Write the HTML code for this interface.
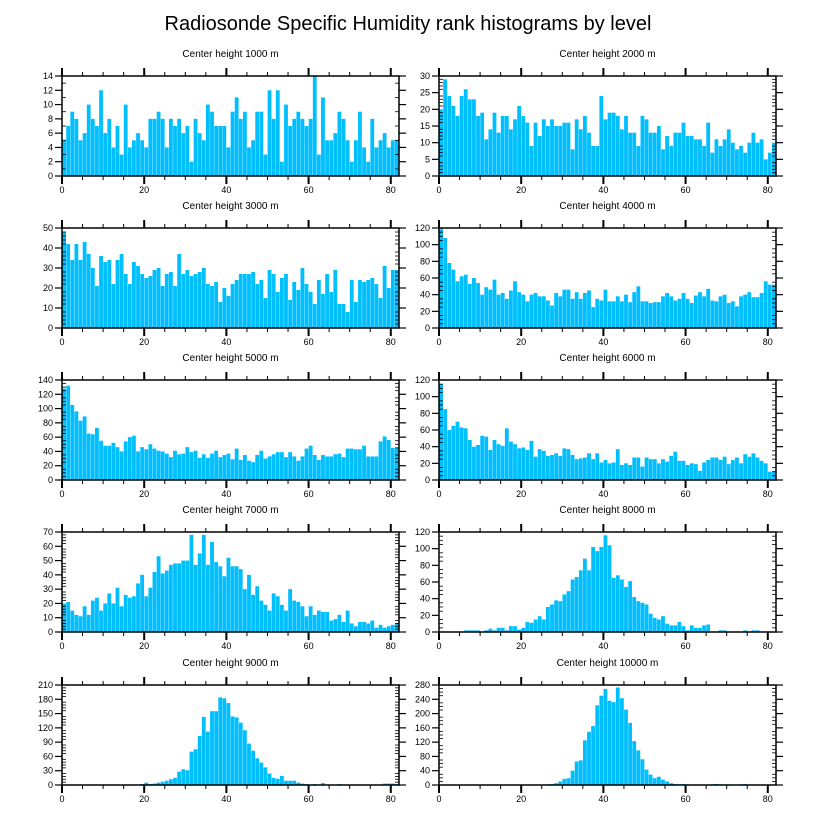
<!DOCTYPE html>
<html><head><meta charset="utf-8"><style>
body{margin:0;background:#fff;}
svg text{font-family:"Liberation Sans",sans-serif;fill:#000;}
</style></head><body>
<svg id="chart" width="816" height="824" viewBox="0 0 816 824" xmlns="http://www.w3.org/2000/svg">
<text x="408" y="30" font-size="20" text-anchor="middle">Radiosonde Specific Humidity rank histograms by level</text>
</svg>
<script>
const panelTitles = ["Center height 1000 m","Center height 2000 m","Center height 3000 m","Center height 4000 m","Center height 5000 m","Center height 6000 m","Center height 7000 m","Center height 8000 m","Center height 9000 m","Center height 10000 m"];
const yMax = [14,30,50,120,140,120,70,120,210,280];
const yStep = [2,5,10,20,20,20,10,20,30,40];
const xTicks = [0,20,40,60,80];
const h1000 = [5,7,9,8,5,6,10,8,7,12,6,8,4,7,3,10,4,5,6,5,4,8,8,9,8,4,8,7,8,6,7,2,8,6,5,10,9,7,7,7,4,9,11,8,9,4,5,9,9,3,12,8,12,2,10,7,8,9,8,7,8,14,3,11,5,5,6,9,8,5,2,5,9,4,2,8,4,5,6,4,5,5];
const h2000 = [20,29,24,21,18,24,26,23,23,18,19,11,14,19,13,18,18,14,17,21,18,16,9,16,12,17,15,17,15,15,16,16,8,17,14,18,13,9,9,24,17,19,19,18,14,18,13,13,9,18,17,13,13,15,8,12,9,13,13,16,12,12,11,11,9,16,7,11,9,11,14,10,8,9,7,10,13,10,11,5,7,10];
const h3000 = [48,42,34,42,34,43,37,30,21,36,33,34,22,34,37,27,22,33,31,27,25,26,29,30,21,27,28,21,37,27,29,26,27,28,30,22,21,23,13,20,16,22,24,27,27,27,28,22,24,15,29,27,18,25,27,14,23,19,30,22,18,12,24,17,27,18,29,12,12,8,24,13,24,23,24,25,22,15,31,20,29,29];
const h4000 = [119,108,78,70,56,62,64,53,60,54,40,49,46,58,40,42,35,45,56,43,40,32,40,42,38,38,33,27,42,38,46,46,35,43,35,42,45,25,35,33,46,32,32,38,32,40,31,43,50,32,32,30,31,31,38,42,38,33,35,42,35,30,39,43,38,47,33,32,38,40,30,32,26,38,40,43,37,37,42,56,52,52];
const h5000 = [128,132,105,96,83,89,65,64,73,55,48,48,52,46,40,54,60,62,40,46,43,50,44,41,40,37,32,41,36,37,46,39,41,31,36,31,37,41,32,35,37,29,44,28,35,27,25,35,41,30,33,36,39,39,32,39,33,27,33,44,48,35,28,35,33,33,36,37,32,44,44,43,43,48,33,33,33,54,61,56,45,45];
const h6000 = [115,85,60,65,70,63,62,48,40,42,53,52,36,48,43,41,62,46,43,38,39,36,47,28,37,35,29,30,32,29,38,37,30,25,26,27,32,25,32,21,24,20,21,37,18,20,18,27,27,16,27,25,25,20,25,22,29,34,23,23,18,20,19,11,21,24,27,27,24,28,19,24,27,20,31,28,32,27,23,20,10,10];
const h7000 = [20,21,15,12,11,18,12,22,24,15,20,27,20,31,18,26,24,25,34,40,25,31,42,53,41,43,47,48,48,50,50,68,47,55,68,47,63,49,46,39,52,46,46,44,30,40,26,32,22,19,15,27,25,19,15,30,22,21,18,11,18,12,15,14,14,8,9,12,7,15,6,4,7,7,6,8,3,5,3,4,5,6];
const h8000 = [0,0,0,0,0,0,2,2,2,2,0,2,4,2,5,5,2,7,7,3,5,12,11,15,19,15,30,33,38,37,45,49,63,66,74,88,74,102,97,102,116,104,65,68,63,54,61,42,37,35,33,22,17,15,19,10,8,8,12,7,2,8,5,5,8,9,0,0,2,2,0,0,0,0,2,0,2,2,0,0,0,0];
const h9000 = [0,0,0,0,0,0,0,0,0,0,0,0,0,0,0,0,0,0,0,2,5,2,3,5,7,9,12,15,28,33,31,70,75,103,143,112,155,155,184,182,172,144,142,131,115,87,72,56,47,37,24,15,13,19,9,9,9,5,3,2,1,2,0,4,0,1,0,2,0,1,0,0,1,0,1,0,0,0,3,3,3,2];
const h10000 = [0,0,0,0,0,0,0,0,0,0,0,0,0,0,0,0,0,0,0,0,0,0,0,0,0,0,2,3,5,10,17,19,40,66,69,125,149,165,223,250,269,236,232,273,243,211,174,123,97,72,43,29,19,23,15,10,5,3,2,3,2,1,1,0,0,0,2,3,2,1,2,1,0,2,3,1,0,0,0,0,0,0];
const series = [h1000,h2000,h3000,h4000,h5000,h6000,h7000,h8000,h9000,h10000];

const NS="http://www.w3.org/2000/svg";
const svg=document.getElementById('chart');
function mk(tag,attrs,parent){const e=document.createElementNS(NS,tag);for(const k in attrs)e.setAttribute(k,attrs[k]);(parent||svg).appendChild(e);return e;}
const lefts=[62,439], W=337, H=100, tops=[76,228,380,532,685];
for(let p=0;p<10;p++){
  const L=lefts[p%2], T=tops[Math.floor(p/2)], B=T+H, R=L+W;
  const g=mk('g',{});
  
  
  const xs=v=>L+v*W/82;
  const ys=v=>B-v*H/yMax[p];
  const t=mk('text',{x:(L+R)/2,y:T-19,'font-size':10,'text-anchor':'middle'},g);
  t.textContent=panelTitles[p];
  
  
  const data=series[p];
  for(let i=0;i<data.length;i++){
    if(data[i]<=0)continue;
    const r=mk('rect',{x:xs(i)+0.15,y:ys(data[i]),width:W/82-0.3,height:B-ys(data[i]),fill:'#00bfff'},g);
    
    
  }
  const fr=mk('rect',{x:L,y:T,width:W,height:H,fill:'none',stroke:'#000','stroke-width':1.5},g);
  
  
  for(let v=0;v<=82;v+=5){
    const maj=(v%20===0), len=maj?8:4, x=xs(v);
    mk('line',{x1:x,x2:x,y1:T,y2:T-len,stroke:'#000','stroke-width':maj?2:1},g);
    mk('line',{x1:x,x2:x,y1:B,y2:B+len,stroke:'#000','stroke-width':maj?2:1},g);
  }
  xTicks.forEach(v=>{
    const lb=mk('text',{x:xs(v),y:B+17,'font-size':9,'text-anchor':'middle'},g);
    lb.textContent=v;
    
    
  });
  const minor=yStep[p]/(yStep[p]%4===0?4:(yStep[p]%5===0?5:2));
  for(let v=0;v<=yMax[p]+1e-9;v+=minor){
    const y=ys(v), maj=Math.abs(v/yStep[p]-Math.round(v/yStep[p]))<1e-6;
    if(maj){
      mk('line',{x1:L-7,x2:L,y1:y,y2:y,stroke:'#000','stroke-width':1.2},g);
      mk('line',{x1:R,x2:R+7,y1:y,y2:y,stroke:'#000','stroke-width':1.2},g);
    } else {
      mk('line',{x1:L,x2:L+4,y1:y,y2:y,stroke:'#000','stroke-width':0.8},g);
      mk('line',{x1:R-4,x2:R,y1:y,y2:y,stroke:'#000','stroke-width':0.8},g);
    }
  }
  for(let v=0;v<=yMax[p];v+=yStep[p]){
    const lb=mk('text',{x:L-9,y:ys(v)+3,'font-size':9,'text-anchor':'end'},g);
    lb.textContent=v;
    
    
  }
}
</script>
</body></html>
